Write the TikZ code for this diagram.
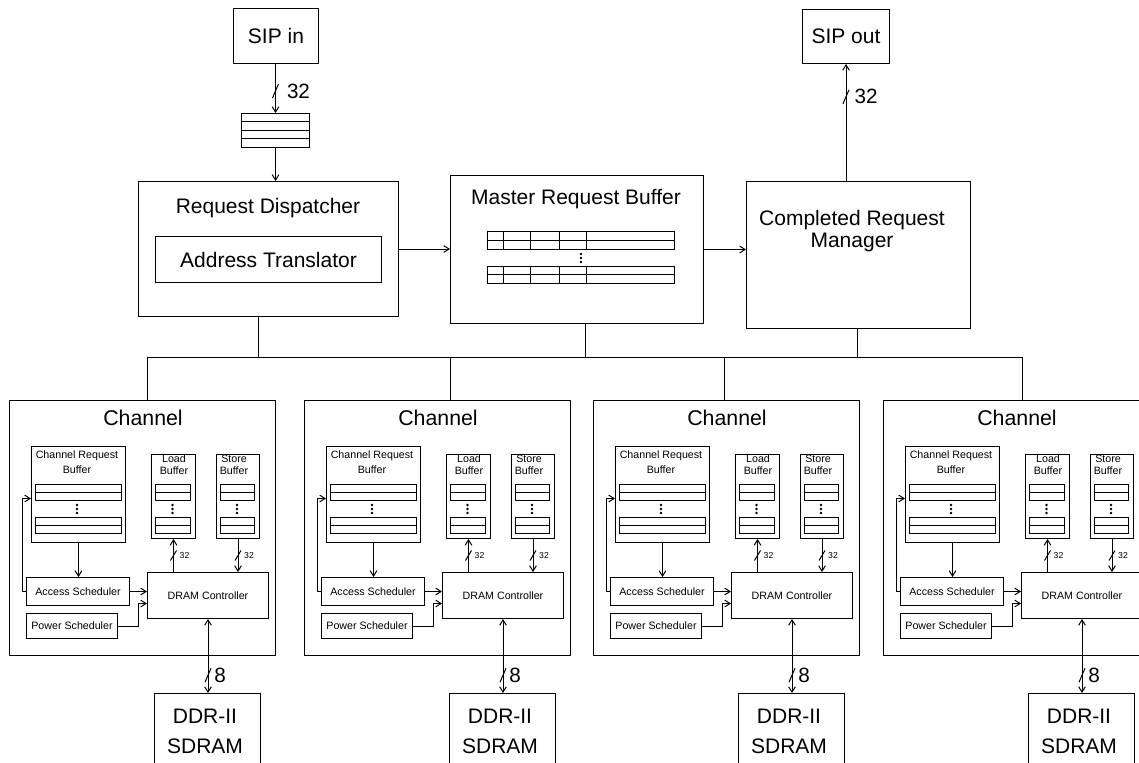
\documentclass[tikz,border=0pt]{standalone}
\usepackage{fontspec}
\setmainfont{Liberation Sans}
\usetikzlibrary{arrows.meta,calc}
\tikzset{
  ln/.style={line width=0.75pt},
  arr/.style={ln,-{Straight Barb[length=4pt,width=5pt]}},
  darr/.style={ln,{Straight Barb[length=4pt,width=5pt]}-{Straight Barb[length=4pt,width=5pt]}},
  bx/.style={draw,line width=0.75pt,inner sep=0pt,anchor=north west},
  tbig/.style={font=\fontsize{15.75}{16}\selectfont,align=center,inner sep=0pt},
  tddr/.style={font=\fontsize{15.75}{22.5}\selectfont,align=center,inner sep=0pt},
  tch/.style={font=\fontsize{16}{19}\selectfont,inner sep=0pt},
  tsm/.style={font=\fontsize{8}{10}\selectfont,align=center,inner sep=0pt},
  tsmb/.style={font=\fontsize{8}{11}\selectfont,align=center,inner sep=0pt},
  tsmc/.style={font=\fontsize{8}{9.2}\selectfont,align=center,inner sep=0pt},
  tlab/.style={font=\fontsize{6.5}{8}\selectfont,inner sep=0pt},
  tnum/.style={font=\fontsize{15.5}{18}\selectfont,inner sep=0pt},
}
\newcommand\mkbox[6][]{\node[bx,#1,minimum width={((#5)-(#3))*0.75pt},minimum height={((#6)-(#4))*0.75pt}] (#2) at (#3,#4) {};}
\newcommand\slashbig[1]{\draw[ln] ($(#1)+(-3,7)$) -- ($(#1)+(3,-7)$);}
\newcommand\slashsm[1]{\draw[ln] ($(#1)+(-3,5)$) -- ($(#1)+(3,-5)$);}
\newcommand\dotcol[2]{\foreach \k in {0,1,2}{\fill (#1,#2+\k*4) circle[radius=1.1pt];}}
\newcommand\entrybox[5]{\draw[ln] (#1,#2) rectangle (#3,#4); \draw[ln] (#1,#5) -- (#3,#5);}
\begin{document}
\begin{tikzpicture}[x=0.75pt,y=-0.75pt]
\useasboundingbox (0,0) rectangle (1139,763);
\clip (0,0) rectangle (1139,763);
\fill[white] (0,0) rectangle (1139,763);

% top input
\mkbox{sipin}{233}{8}{318}{63}
\node[tbig] (sipint) at (sipin.center) {SIP in};
\mkbox{fifo}{241}{113}{309}{147}
\foreach \yy in {122,131,139}{\draw[ln] (241,\yy) -- (309,\yy);}
\draw[arr] (sipin.south -| fifo.north) -- coordinate[pos=0.55] (s1) (fifo.north);
\slashbig{s1}
\node[tnum] (l1) at ($(s1)+(23,0)$) {32};

% request dispatcher
\mkbox{rd}{138}{181}{398}{316}
\draw[arr] (fifo.south) -- (fifo.south |- rd.north);
\node[tbig] (rdt) at (268,208) {Request Dispatcher};
\mkbox{at}{155}{236}{381}{282}
\node[tbig] (att) at (at.center) {Address Translator};

% master request buffer
\mkbox{mrb}{450}{175}{703}{323}
\node[tbig] (mrbt) at (576,199) {Master Request Buffer};
\entrybox{487}{232}{674}{249}{240.5}
\entrybox{487}{266}{674}{283}{274.5}
\foreach \xx in {503,530,559,586}{\draw[ln] (\xx,232) -- (\xx,249); \draw[ln] (\xx,266) -- (\xx,283);}
\dotcol{581}{254}

% completed request manager
\mkbox{crm}{746}{181}{970}{328}
\node[tbig] (crmt) at (852,231) {Completed Request\\Manager};
\mkbox{sipout}{802}{9}{889}{63}
\node[tbig] (sipoutt) at (sipout.center) {SIP out};
\draw[arr] (crm.north -| sipout.south) -- coordinate[pos=0.72] (s2) (sipout.south);
\slashbig{s2}
\node[tnum] (l2) at ($(s2)+(20,0)$) {32};

\draw[arr] (rd.east) -- (rd.east -| mrb.west);
\draw[arr] (mrb.east) -- (mrb.east -| crm.west);

% bus
\coordinate (bL) at (147,357);
\coordinate (bR) at (1022,357);
\coordinate (brd) at (258,357);
\coordinate (bmrb) at (585,357);
\coordinate (bcrm) at (857,357);
\draw[ln] (bL) -- (bR);
\draw[ln] (rd.south -| brd) -- (brd);
\draw[ln] (mrb.south -| bmrb) -- (bmrb);
\draw[ln] (crm.south -| bcrm) -- (bcrm);

% channels
\foreach \i/\L/\d in {1/9/138,2/304/146,3/593/131,4/883/139}{
\begin{scope}[shift={(\L,0)}]
  \mkbox{ch\i}{0}{400}{266}{655}
  \coordinate (d\i) at (\d,357);
  \draw[ln] (d\i) -- (d\i |- ch\i.north);
  \node[tch] (cht\i) at (134,418) {Channel};
  % channel request buffer
  \mkbox{crb\i}{22}{446}{116}{542}
  \node[tsmb] (crbt\i) at (68,462) {Channel Request\\Buffer};
  \entrybox{26}{484}{112}{500}{492}
  \entrybox{26}{517}{112}{533}{525}
  \dotcol{68}{505}
  % load buffer
  \mkbox{ld\i}{142}{454}{186}{538}
  \node[tsmc] (ldt\i) at (165,465) {Load\\Buffer};
  \entrybox{146}{484}{181}{500}{492}
  \entrybox{146}{517}{181}{533}{525}
  \dotcol{163.5}{505}
  % store buffer
  \mkbox{st\i}{207}{454}{250}{538}
  \node[tsmc] (stt\i) at (225,465) {Store\\Buffer};
  \entrybox{211}{484}{245}{500}{492}
  \entrybox{211}{517}{245}{533}{525}
  \dotcol{228}{505}
  % schedulers and controller
  \mkbox{dram\i}{138}{572}{259}{618}
  \node[tsm] (dramt\i) at (dram\i.center) {DRAM Controller};
  \mkbox{acc\i}{17}{577}{120}{605}
  \node[tsm] (acct\i) at (acc\i.center) {Access Scheduler};
  \mkbox{pow\i}{17}{613}{108}{638}
  \node[tsm] (powt\i) at (pow\i.center) {Power Scheduler};
  \draw[arr] (crb\i.south) -- (crb\i.south |- acc\i.north);
  \draw[arr] (acc\i.east) -- (acc\i.east -| dram\i.west);
  \draw[arr] (acc\i.west) -- ++(-4,0) |- ($(crb\i.west)+(0,4)$);
  \draw[arr] (pow\i.east) -- ++(20,0) |- ($(dram\i.west)+(0,8)$);
  \draw[arr] (dram\i.north -| ld\i.south) -- coordinate[pos=0.5] (sl\i) (ld\i.south);
  \slashsm{sl\i}
  \node[tlab] (sll\i) at ($(sl\i)+(11,0)$) {32};
  \draw[arr] (st\i.south) -- coordinate[pos=0.5] (ss\i) (st\i.south |- dram\i.north);
  \slashsm{ss\i}
  \node[tlab] (ssl\i) at ($(ss\i)+(11,0)$) {32};
  % DDR
  \mkbox{ddr\i}{145}{693}{251}{790}
  \node[tddr] (ddrt\i) at (196,731) {DDR-II\\SDRAM};
  \draw[darr] (dram\i.south) -- coordinate[pos=0.76] (sd\i) (dram\i.south |- ddr\i.north);
  \slashbig{sd\i}
  \node[tnum] (sdl\i) at ($(sd\i)+(12,0)$) {8};
\end{scope}
}
\end{tikzpicture}
\end{document}
